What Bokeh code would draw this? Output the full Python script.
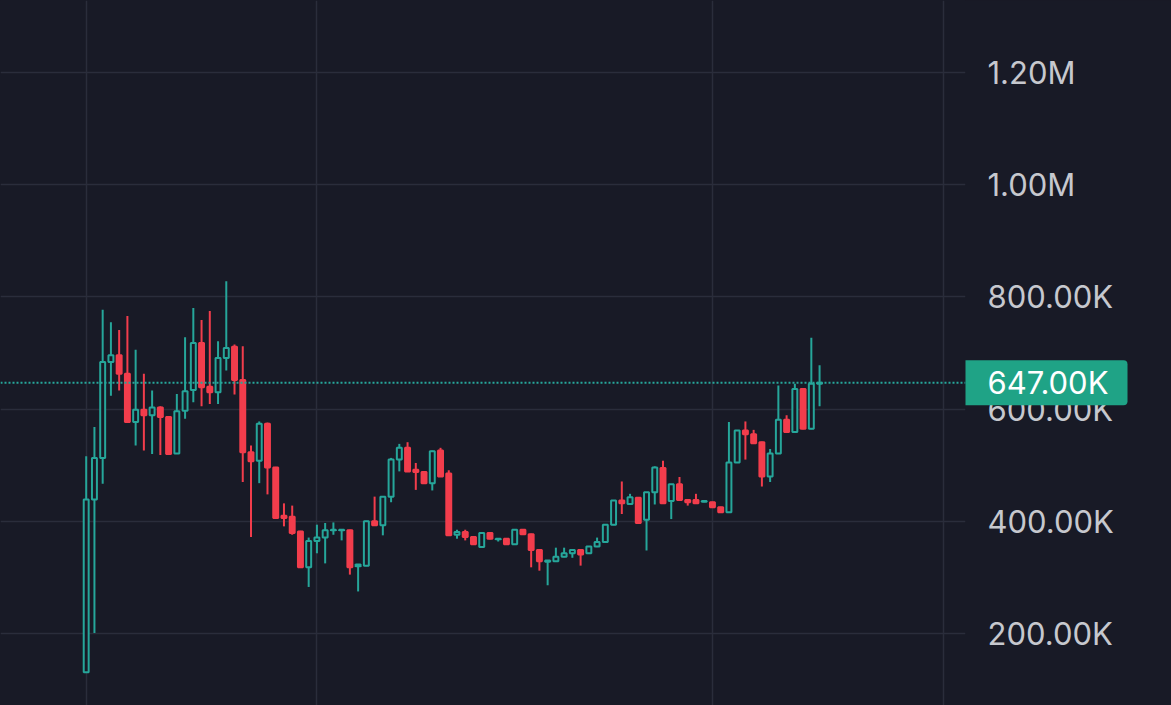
from bokeh.plotting import figure
from bokeh.models import ColumnDataSource, FixedTicker, CustomJSTickFormatter, Span, Label, Range1d
from bokeh.embed import file_html
from bokeh.resources import INLINE

# ---- data (values in thousands) ----
opens  = [131,439,513,684,696,663,577,599,589,603, 586,521,597,634,718,640,630,691,711,652,
          523,508,574,496,410,408,382,318,365,371, 384,384,384,320,321,400,393,444,510,531,
          492,488,468,526,485,376,381,372,354,379, 368,369,359,385,377,349,328,329,337,343,
          349,343,355,363,394,437,431,442,403,452, 495,436,466,438,438,435,434,425,416,505,
          562,555,541,480,521,581,559,636,565,645]
highs  = [516,568,777,755,741,766,706,663,633,605, 586,627,728,780,759,775,721,828,715,712,
          535,578,576,497,432,428,383,371,394,397, 398,386,385,323,401,444,445,513,538,541,
          504,489,526,531,491,385,385,373,379,380, 370,370,385,386,378,350,330,353,353,350,
          350,356,371,395,438,471,449,443,452,498, 508,466,479,439,449,437,435,426,577,562,
          578,563,542,529,642,589,645,637,727,678]
lows   = [131,201,467,624,633,577,535,526,520,518, 520,521,583,612,605,609,609,669,626,470,
          372,468,448,405,391,376,318,283,343,325, 376,366,305,275,320,392,375,434,489,489,
          456,468,455,479,374,369,366,358,353,368, 364,358,358,376,318,312,286,328,336,335,
          321,342,354,362,393,413,430,396,348,430, 432,404,438,428,431,434,425,416,415,504,
          510,539,462,470,520,558,558,564,564,605]
closes = [439,513,684,696,663,577,599,589,603,586, 520,596,632,718,639,630,691,709,652,523,
          507,574,496,406,406,379,318,365,371,384, 385,385,318,323,400,393,444,510,531,489,
          488,468,525,480,375,381,372,359,379,369, 369,359,385,377,349,329,330,337,343,349,
          341,355,363,394,437,432,443,397,452,496, 432,466,438,434,432,436,425,416,505,562,
          555,539,480,521,581,559,636,565,645,647]
y_ticks = [200000, 400000, 600000, 800000, 1000000, 1200000]
x_grid_ticks = [0, 28, 76, 104]
last_price = 647000

BG = "#181a26"
GRID = "#2a2d3b"
GREEN = "#26a69a"
RED = "#f23d4c"
BADGE = "#1fa386"
LABEL = "#c6c8ce"

idx = list(range(len(opens)))
up = [c >= o for o, c in zip(opens, closes)]

def pick(arr, flag):
    return [a * 1000 for a, u in zip(arr, up) if u == flag]

def make_src(flag):
    xs = [i for i, u in zip(idx, up) if u == flag]
    o = pick(opens, flag); c = pick(closes, flag)
    return ColumnDataSource(dict(
        x=xs, high=pick(highs, flag), low=pick(lows, flag),
        top=[max(a, b) for a, b in zip(o, c)], bottom=[min(a, b) for a, b in zip(o, c)]))

src_up = make_src(True)
src_dn = make_src(False)

p = figure(width=1171, height=705, output_backend="svg", toolbar_location=None,
           x_axis_location=None, y_axis_location="right",
           x_range=Range1d(-10.40, 106.71), y_range=Range1d(71700, 1328300),
           min_border_left=0, min_border_top=0, min_border_bottom=0, min_border_right=206,
           background_fill_color=BG, border_fill_color=BG, outline_line_color=None)

p.xgrid.ticker = FixedTicker(ticks=x_grid_ticks)
p.xgrid.grid_line_color = GRID
p.xgrid.grid_line_width = 1.5
p.ygrid.grid_line_color = GRID
p.ygrid.grid_line_width = 1.5

ax = p.yaxis[0]
ax.ticker = FixedTicker(ticks=y_ticks)
ax.formatter = CustomJSTickFormatter(code="""
  return tick >= 1e6 ? (tick/1e6).toFixed(2) + 'M' : (tick/1e3).toFixed(2) + 'K';
""")
ax.axis_line_color = None
ax.major_tick_line_color = None
ax.minor_tick_line_color = None
ax.major_tick_out = 0
ax.major_tick_in = 0
ax.major_label_standoff = -140
ax.major_label_text_font = "Inter"
ax.major_label_text_font_size = "31px"
ax.major_label_text_color = LABEL

# wicks
p.segment(x0="x", y0="high", x1="x", y1="low", source=src_up, line_color=GREEN, line_width=2)
p.segment(x0="x", y0="high", x1="x", y1="low", source=src_dn, line_color=RED, line_width=2)
# bodies
p.vbar(x="x", width=0.6, top="top", bottom="bottom", source=src_up,
       fill_color=BG, line_color=GREEN, line_width=2)
p.vbar(x="x", width=0.6, top="top", bottom="bottom", source=src_dn,
       fill_color=RED, line_color=RED, line_width=2)

p.add_layout(Span(location=last_price, dimension="width", line_color=GREEN,
                  line_dash="2 2", line_width=2))

badge = Label(x=106.71, y=last_price, text=f"{last_price/1000:.2f}K",
              text_baseline="middle", text_align="left", text_color="white",
              text_font="Inter", text_font_size="31px",
              background_fill_color=BADGE,
              padding=dict(left=22, right=19, top=4, bottom=4),
              border_radius=(0, 4, 4, 0))
p.right = [badge, ax]

html = file_html(p, INLINE)
html = html.replace("</head>", "<style>html,body{background:#181a26;}</style></head>")
open("out.html", "w").write(html)
